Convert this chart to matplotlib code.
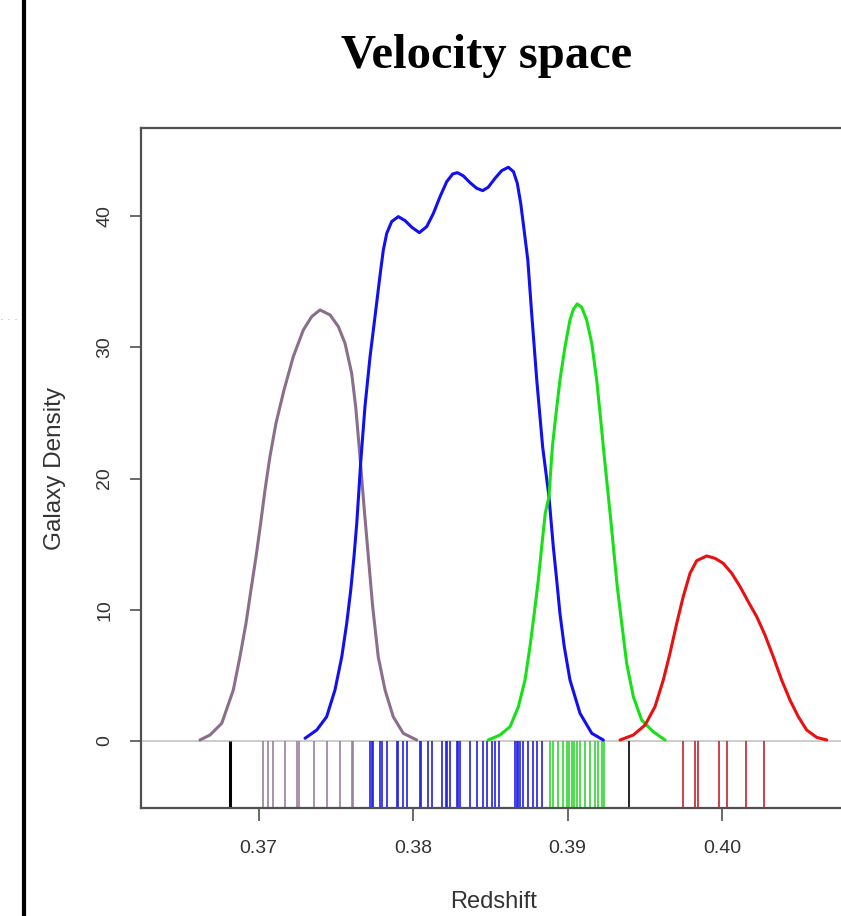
import matplotlib
matplotlib.use("Agg")
import matplotlib.pyplot as plt
from matplotlib.lines import Line2D

# ---- data ----
purple_x = [0.36621, 0.36686, 0.36762, 0.36837, 0.36880, 0.36919, 0.36951, 0.36984,
            0.37014, 0.37042, 0.37074, 0.37113, 0.37165, 0.37225, 0.37290, 0.37344,
            0.37398, 0.37463, 0.37517, 0.37560, 0.37603, 0.37629, 0.37657, 0.37683,
            0.37711, 0.37739, 0.37775, 0.37819, 0.37872, 0.37937, 0.38024]
purple_y = [0.08, 0.46, 1.35, 3.89, 6.42, 8.97, 11.50, 14.04, 16.59, 19.12, 21.66,
            24.20, 26.74, 29.28, 31.31, 32.33, 32.84, 32.46, 31.57, 30.30, 28.02,
            25.47, 21.66, 17.85, 14.04, 10.23, 6.42, 3.89, 1.85, 0.59, 0.08]

blue_x = [0.37301, 0.37377, 0.37441, 0.37495, 0.37539, 0.37571, 0.37597, 0.37618,
          0.37636, 0.37650, 0.37661, 0.37689, 0.37722, 0.37754, 0.37775, 0.37791,
          0.37808, 0.37830, 0.37862, 0.37905, 0.37949, 0.37992, 0.38041, 0.38089,
          0.38132, 0.38175, 0.38218, 0.38257, 0.38287, 0.38326, 0.38369, 0.38412,
          0.38451, 0.38487, 0.38531, 0.38574, 0.38617, 0.38650, 0.38675, 0.38697,
          0.38719, 0.38743, 0.38768, 0.38801, 0.38839, 0.38880, 0.38908, 0.38930,
          0.38951, 0.38979, 0.39016, 0.39081, 0.39157, 0.39232]
blue_y = [0.21, 0.84, 1.85, 3.89, 6.42, 8.97, 11.50, 14.04, 16.59, 19.12, 21.16,
          25.47, 29.28, 32.33, 34.36, 35.89, 37.41, 38.68, 39.57, 39.95, 39.64,
          39.14, 38.73, 39.19, 40.20, 41.47, 42.61, 43.20, 43.30, 43.05, 42.54,
          42.11, 41.93, 42.19, 42.87, 43.45, 43.71, 43.38, 42.49, 40.97, 38.93,
          36.65, 32.59, 27.50, 22.42, 18.62, 14.81, 12.27, 9.73, 7.19, 4.65, 2.11,
          0.59, 0.08]

green_x = [0.38487, 0.38563, 0.38628, 0.38682, 0.38725, 0.38757, 0.38785, 0.38811,
           0.38833, 0.38856, 0.38880, 0.38902, 0.38926, 0.38951, 0.38984, 0.39016,
           0.39038, 0.39063, 0.39092, 0.39124, 0.39157, 0.39189, 0.39215, 0.39236,
           0.39258, 0.39280, 0.39301, 0.39322, 0.39351, 0.39383, 0.39426, 0.39480,
           0.39555, 0.39631]
green_y = [0.08, 0.46, 1.09, 2.61, 4.65, 7.19, 9.73, 12.27, 14.81, 17.35, 18.62,
           22.42, 24.97, 27.50, 30.04, 32.08, 32.89, 33.30, 33.04, 32.08, 30.30,
           27.50, 24.46, 21.92, 19.38, 16.84, 14.30, 11.76, 8.97, 5.92, 3.38, 1.60,
           0.71, 0.08]

red_x = [0.39340, 0.39426, 0.39502, 0.39566, 0.39620, 0.39663, 0.39707, 0.39749,
         0.39793, 0.39836, 0.39901, 0.39955, 0.40008, 0.40063, 0.40117, 0.40170,
         0.40225, 0.40278, 0.40332, 0.40386, 0.40440, 0.40494, 0.40548, 0.40613,
         0.40678]
red_y = [0.08, 0.46, 1.22, 2.61, 4.65, 6.68, 8.97, 11.00, 12.78, 13.74, 14.10,
         13.92, 13.54, 12.78, 11.76, 10.61, 9.47, 8.08, 6.42, 4.65, 3.12, 1.85,
         0.84, 0.28, 0.08]

rug_black_thick = [0.36816]
rug_black_thin = [0.39400]
rug_purple = [0.37027, 0.37060, 0.37096, 0.37172, 0.37251, 0.37259, 0.37359,
              0.37441, 0.37528, 0.37602, 0.37610]
rug_blue = [0.37722, 0.37735, 0.37743, 0.37786, 0.37797, 0.37830, 0.37894, 0.37900,
            0.37933, 0.37959, 0.38045, 0.38050, 0.38099, 0.38121, 0.38186, 0.38214,
            0.38219, 0.38239, 0.38287, 0.38291, 0.38304, 0.38369, 0.38412, 0.38455,
            0.38477, 0.38509, 0.38531, 0.38559, 0.38660, 0.38671, 0.38682, 0.38693,
            0.38714, 0.38746, 0.38775, 0.38801, 0.38833]
rug_green = [0.38887, 0.38908, 0.38940, 0.38969, 0.38995, 0.39012, 0.39027, 0.39042,
             0.39060, 0.39081, 0.39113, 0.39146, 0.39178, 0.39199, 0.39221, 0.39236]
rug_red = [0.39746, 0.39826, 0.39847, 0.39983, 0.40030, 0.40153, 0.40272]

x_ticks = [0.37, 0.38, 0.39, 0.40]
x_tick_labels = ["0.37", "0.38", "0.39", "0.40"]
y_ticks = [0, 10, 20, 30, 40]
y_tick_labels = ["0", "10", "20", "30", "40"]

title = "Velocity space"
x_label = "Redshift"
y_label = "Galaxy Density"

# ---- figure ----
W, H = 841, 916
fig = plt.figure(figsize=(W / 100, H / 100), dpi=100)
fig.patch.set_facecolor("white")

ax_left, ax_right, ax_top, ax_bottom = 141, 900, 128, 808
ax = fig.add_axes([ax_left / W, 1 - ax_bottom / H,
                   (ax_right - ax_left) / W, (ax_bottom - ax_top) / H])
ax.set_xlim(0.362395, 0.411520)
ax.set_ylim(-5.10, 46.70)

purple_c = "#8a6e8c"
ax.axhline(0, color="#c4c4c4", lw=1.2, zorder=1)
line_kw = dict(lw=2.2, zorder=3, solid_joinstyle="round", solid_capstyle="round")
ax.plot(purple_x, purple_y, color=purple_c, **line_kw)
ax.plot(blue_x, blue_y, color="#1010f0", **line_kw)
ax.plot(green_x, green_y, color="#18e018", **line_kw)
ax.plot(red_x, red_y, color="#e81010", **line_kw)

ymin = -5.10
ax.vlines(rug_purple, ymin, 0, color="#9b7f9d", lw=1.2)
ax.vlines(rug_blue, ymin, 0, color="#2020e8", lw=1.2)
ax.vlines(rug_green, ymin, 0, color="#30d830", lw=1.2)
ax.vlines(rug_red, ymin, 0, color="#c8202a", lw=1.2)
ax.vlines(rug_black_thick, ymin, 0, color="black", lw=2.2)
ax.vlines(rug_black_thin, ymin, 0, color="black", lw=1.2)

spine_c = "#505050"
for s in ["left", "bottom", "top", "right"]:
    ax.spines[s].set_color(spine_c)
    ax.spines[s].set_linewidth(1.6)

ax.set_xticks(x_ticks)
ax.set_xticklabels(x_tick_labels)
ax.set_yticks(y_ticks)
ax.set_yticklabels(y_tick_labels, rotation=90, va="center")
ax.tick_params(axis="x", direction="out", length=9, width=1.2, color=spine_c,
               pad=14, labelsize=14, labelcolor="#333333")
ax.tick_params(axis="y", direction="out", length=8, width=1.2, color=spine_c,
               pad=12, labelsize=14, labelcolor="#333333")
for lab in ax.get_xticklabels() + ax.get_yticklabels():
    lab.set_family("Liberation Sans")

fig.text(487 / W, 1 - 68 / H, title, ha="center", va="baseline",
         fontsize=35, fontweight="bold", family="Liberation Serif", color="black")
fig.text(494 / W, 1 - 902 / H, x_label, ha="center", va="center",
         fontsize=17, family="Liberation Sans", color="#333333")
fig.text(55 / W, 1 - 468 / H, y_label, ha="center", va="center", rotation=90,
         fontsize=17.5, family="Liberation Sans", color="#333333")

# slide decorations
fig.add_artist(Line2D([24 / W, 24 / W], [0, 1], color="black", lw=3.0))
fig.text(0 / W, 1 - 320 / H, "· · ·", ha="left", va="center", fontsize=8,
         color="#aaaaaa")

fig.savefig("out.png", dpi=100, facecolor="white")
